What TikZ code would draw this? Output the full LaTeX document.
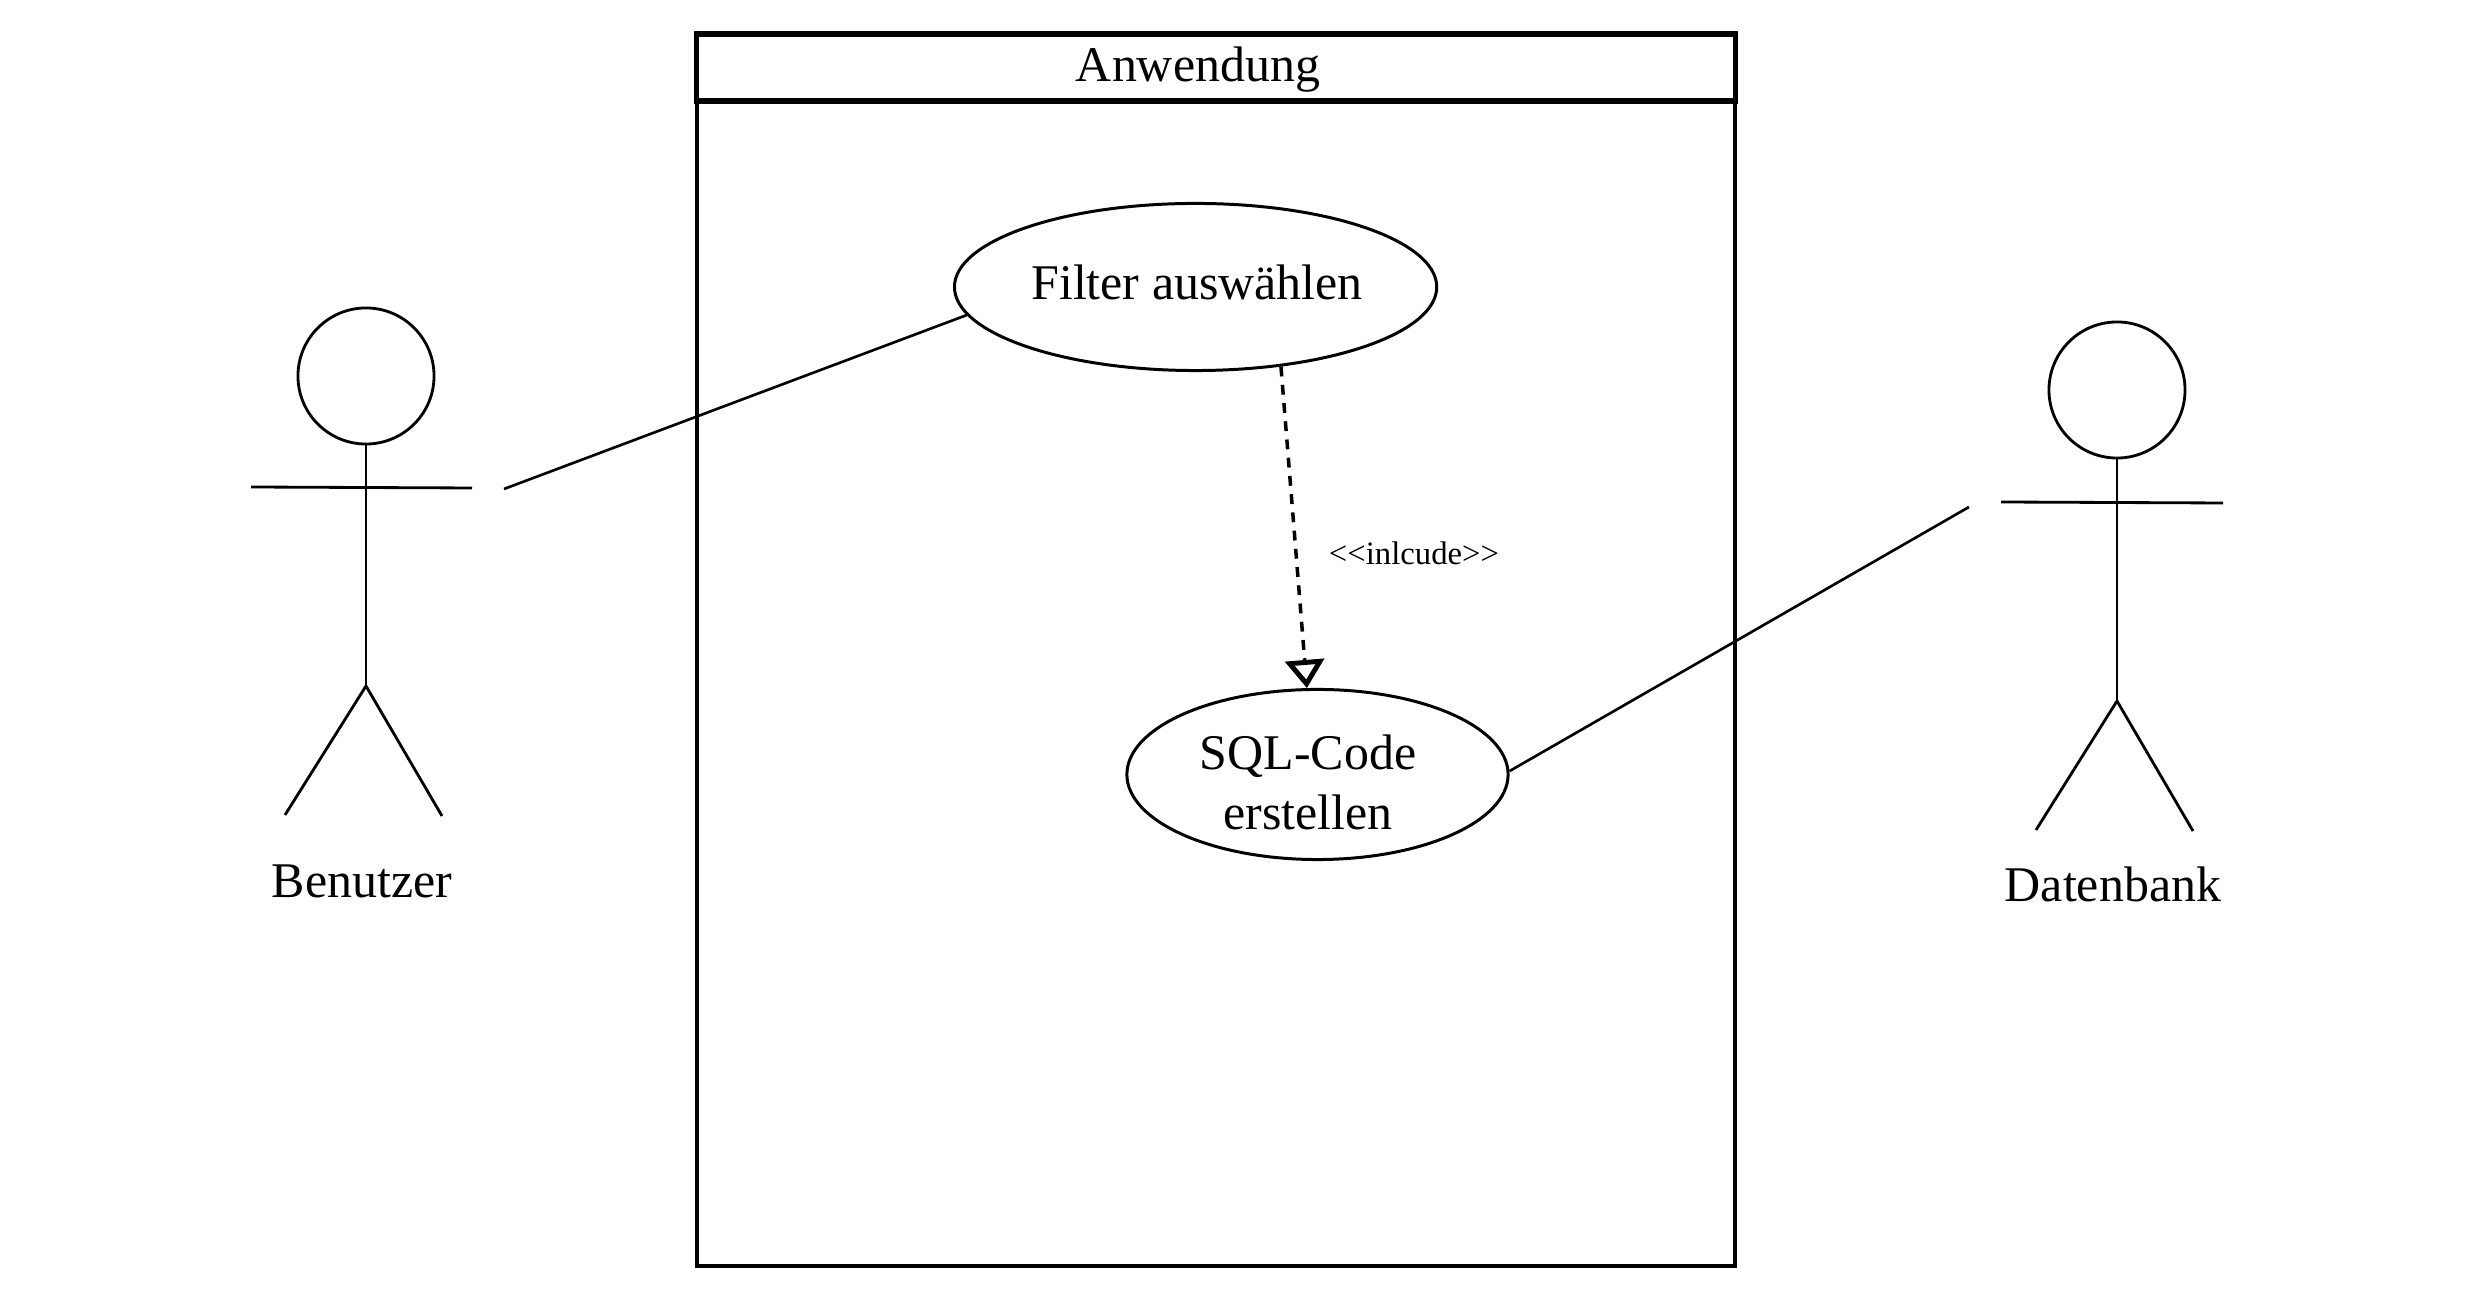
\documentclass[tikz,border=0pt]{standalone}
\usepackage{fontspec}
\setmainfont{Liberation Serif}
\usepackage{tikz}
\usetikzlibrary{arrows.meta, shapes.geometric}
\tikzstyle{usecase}=[inner sep=0pt, draw, shape=ellipse, line width=.85pt]
\tikzstyle{head}=[inner sep=0pt, draw, shape=circle, line width=.8pt, minimum size=1.36cm]
\tikzstyle{stick}=[line width=.8pt]
\tikzstyle{frame}=[inner sep=0pt, draw, shape=rectangle, line width=1.1pt]
\tikzstyle{lbl}=[inner sep=0pt, font=\fontsize{14.2}{17}\selectfont]
\tikzstyle{small}=[inner sep=0pt, font=\fontsize{9.3}{11}\selectfont]
\tikzstyle{assoc}=[line width=.75pt]
\tikzstyle{incl}=[line width=1pt, dash pattern=on 2.8pt off 2.4pt, -{Triangle[open, length=8pt, width=11pt, line width=1.4pt]}]

\begin{document}
\begin{tikzpicture}[x=.01cm, y=-.01cm]
\useasboundingbox (0,0) rectangle (2480,1298);
%
\node[frame, minimum width=10.38cm, minimum height=12.32cm] (sys) at (1216,650) {};
\node[frame, line width=1.5pt, fill=white, minimum width=10.38cm, minimum height=.67cm] (title) at (1216,67.5) {};
\node[lbl, anchor=base] (titletext) at (1198,81.5) {Anwendung};
%
\node[usecase, minimum width=4.82cm, minimum height=1.67cm, label={[lbl, name=filtertext, xshift=.015cm, yshift=.05cm]center:Filter auswählen}] (filter) at (1195.6,287) {};
\node[usecase, minimum width=3.81cm, minimum height=1.70cm, label={[lbl, name=sqltext, align=center, xshift=-.095cm, yshift=-.08cm]center:SQL-Code\\erstellen}] (sql) at (1317.5,774.5) {};
\node[small, anchor=base] (incltext) at (1414,565) {<{}<inlcude>{}>};
%
\node[head] (bhead) at (366,376) {};
\coordinate (bhip) at (366,686);
\coordinate (bla) at (251,487);
\coordinate (bra) at (472,488);
\coordinate (bll) at (285,815);
\coordinate (brl) at (442,816);
\coordinate (bhand) at (504,489);
\node[lbl, anchor=base] (btext) at (362,897.5) {Benutzer};
%
\node[head] (dhead) at (2117,390) {};
\coordinate (dhip) at (2117,701);
\coordinate (dla) at (2001,502);
\coordinate (dra) at (2223,503);
\coordinate (dll) at (2036,830);
\coordinate (drl) at (2193,831);
\coordinate (dhand) at (1969,507);
\node[lbl, anchor=base] (dtext) at (2113,902) {Datenbank};
%
\draw[stick] (bhead) -- (bhip);
\draw[stick] (bla) -- (bra);
\draw[stick] (bll) -- (bhip) -- (brl);
\draw[stick] (dhead) -- (dhip);
\draw[stick] (dla) -- (dra);
\draw[stick] (dll) -- (dhip) -- (drl);
%
\draw[assoc] (bhand) -- (filter.187);
\draw[assoc] (sql.1) -- (dhand);
\draw[incl] (filter.317) -- (sql.97);
\end{tikzpicture}
\end{document}
